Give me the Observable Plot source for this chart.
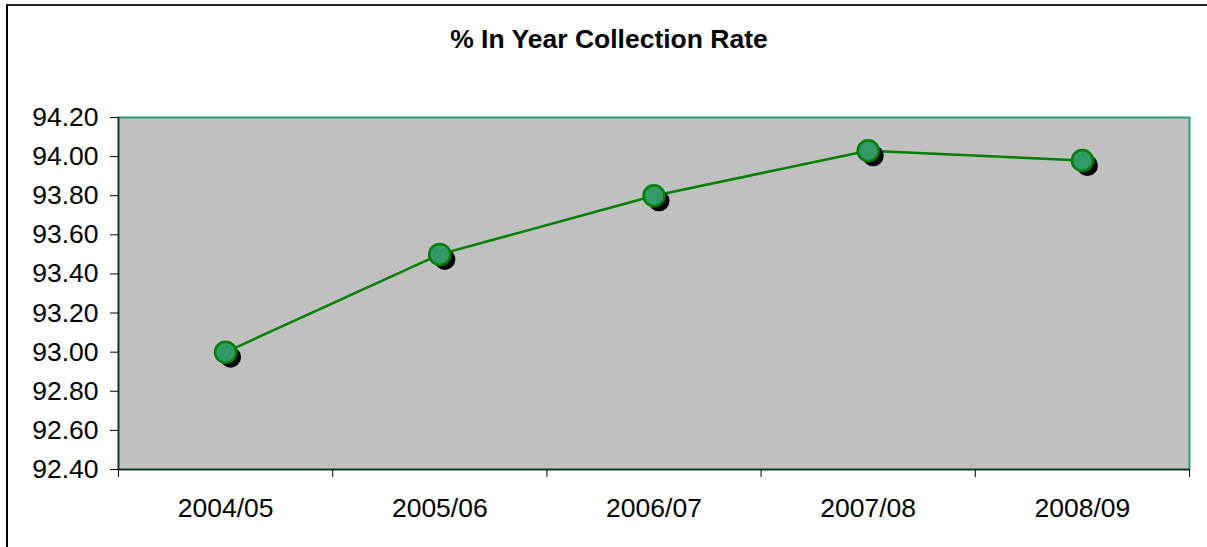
<!DOCTYPE html>
<html>
<head>
<meta charset="utf-8">
<script src="https://cdn.jsdelivr.net/npm/d3@7"></script>
<script src="https://cdn.jsdelivr.net/npm/@observablehq/plot@0.6"></script>
<style>
  html, body { margin: 0; padding: 0; background: #fff; overflow: hidden; }
  #wrap { position: relative; width: 1207px; height: 547px; overflow: hidden; font-family: "Liberation Sans", Arial, sans-serif; }
  #border { position: absolute; left: 6px; top: 4px; width: 1400px; height: 800px; border-left: 2px solid #000; border-top: 2px solid #222; box-sizing: border-box; }
  #title { position: absolute; left: 0; top: 26px; width: 1218px; text-align: center; font-weight: bold; font-size: 26.5px; line-height: 26.5px; color: #000; }
  #chart { position: absolute; left: 0; top: 0; line-height: 0; }
</style>
</head>
<body>
<div id="wrap">
  <div id="border"></div>
  <div id="title">% In Year Collection Rate</div>
  <div id="chart"></div>
</div>
<script>
const categories = ["2004/05", "2005/06", "2006/07", "2007/08", "2008/09"];
const values = [93.00, 93.50, 93.80, 94.03, 93.98];
const yTicks = [92.4, 92.6, 92.8, 93.0, 93.2, 93.4, 93.6, 93.8, 94.0, 94.2];

const data = categories.map((c, i) => ({cat: c, i, v: values[i]}));
const xc = d => d.i + 0.5;

const chart = Plot.plot({
  width: 1207,
  height: 547,
  marginLeft: 118,
  marginRight: 18,
  marginTop: 117,
  marginBottom: 78,
  style: {background: "transparent", color: "#000", fontFamily: "'Liberation Sans', Arial, sans-serif", fontSize: "26.5px"},
  x: {type: "linear", domain: [0, categories.length], label: null},
  y: {domain: [yTicks[0], yTicks[yTicks.length - 1]], label: null},
  marks: [
    Plot.frame({fill: "#c0c0c0", stroke: "#339966", strokeWidth: 2}),
    Plot.ruleX([0], {stroke: "#1a2a22", strokeWidth: 1.5}),
    Plot.ruleY([yTicks[0]], {stroke: "#1a2a22", strokeWidth: 1.5}),
    Plot.axisY({ticks: yTicks, tickFormat: d => d.toFixed(2), tickSize: 8, tickPadding: 12, fontSize: 26.5, label: null}),
    Plot.axisX({ticks: d3.range(categories.length + 1), tickFormat: () => "", tickSize: 8, label: null}),
    Plot.axisX({ticks: categories.map((c, i) => i + 0.5), tickFormat: d => categories[Math.floor(d)], tickSize: 0, tickPadding: 29, fontSize: 26.5, label: null}),
    Plot.line(data, {x: xc, y: "v", stroke: "#008000", strokeWidth: 2.5}),
    Plot.dot(data, {x: xc, y: "v", r: 10.5, fill: "#000", dx: 5, dy: 5}),
    Plot.dot(data, {x: xc, y: "v", r: 10.5, fill: "#339966", stroke: "#008000", strokeWidth: 2.5})
  ]
});
document.getElementById("chart").appendChild(chart);
</script>
</body>
</html>
